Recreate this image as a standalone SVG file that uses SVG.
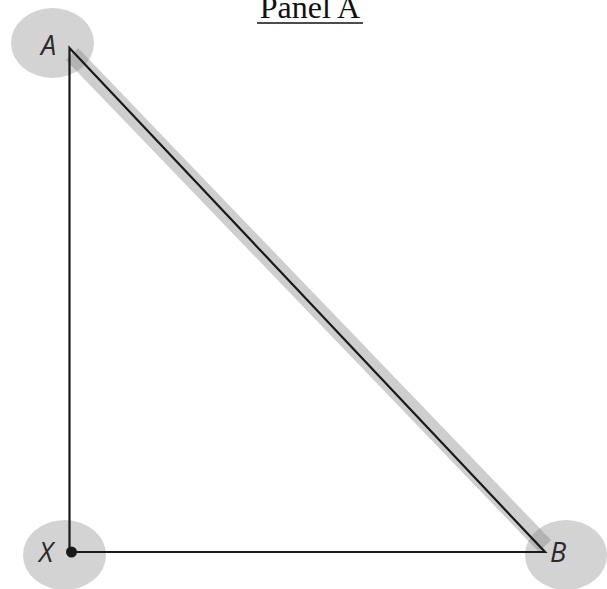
<svg xmlns="http://www.w3.org/2000/svg" width="607" height="589" viewBox="0 0 607 589">
<style>
.node{fill:#d3d3d3}
.lbl{font-family:"Open Sans","DejaVu Sans",sans-serif;font-style:italic;font-size:27px;fill:#2a2a2a}
.edge{stroke:#1a1a1a;stroke-width:2.2;fill:none}
.title{font-family:"Liberation Serif",serif;font-size:32px;fill:#111}
</style>
<rect width="607" height="589" fill="#fff"/>
<text class="title" x="310" y="18" text-anchor="middle">Panel A</text>
<line x1="257" y1="23" x2="363" y2="23" stroke="#111" stroke-width="1.5"/>
<g id="node-A"><ellipse class="node" cx="52.5" cy="43" rx="41.5" ry="35"/><text class="lbl" x="41" y="55">A</text></g>
<g id="node-X"><ellipse class="node" cx="64.5" cy="555" rx="41.5" ry="35"/><text class="lbl" x="39" y="562">X</text></g>
<g id="node-B"><ellipse class="node" cx="566" cy="555" rx="41" ry="35"/><text class="lbl" x="550" y="562">B</text></g>
<g id="connectors">
<line x1="72" y1="54" x2="545" y2="546" stroke="#858585" stroke-opacity="0.4" stroke-width="17"/>
<polyline class="edge" points="69.5,552 69.5,48 545,552 71,552"/>
<circle cx="71.5" cy="552" r="5.5" fill="#1a1a1a"/>
</g>
</svg>
